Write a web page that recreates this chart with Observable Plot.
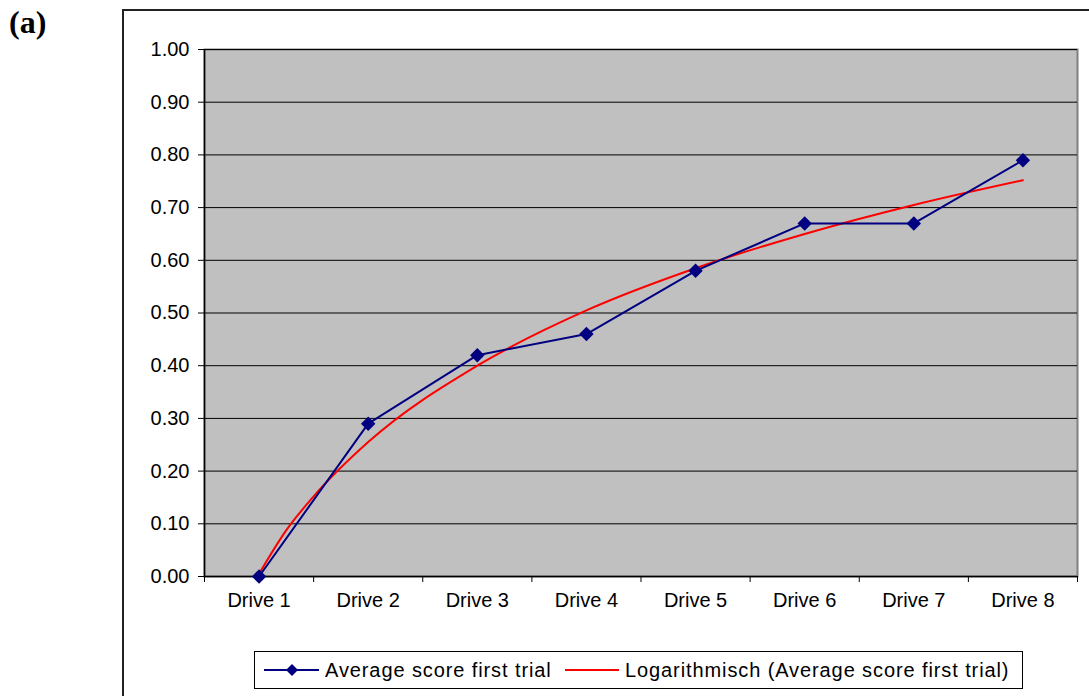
<!DOCTYPE html>
<html>
<head>
<meta charset="utf-8">
<script src="https://cdn.jsdelivr.net/npm/d3@7"></script>
<script src="https://cdn.jsdelivr.net/npm/@observablehq/plot@0.6"></script>
<style>
  html, body { margin: 0; padding: 0; background: #fff; }
  #wrap { position: relative; width: 1089px; height: 696px; overflow: hidden; font-family: "Liberation Sans", Arial, sans-serif; }
  #panel { position: absolute; left: 9px; top: 3px; font-family: "Liberation Serif", "Times New Roman", serif; font-weight: bold; font-size: 32px; line-height: 38px; }
  #outer { position: absolute; left: 122px; top: 9px; width: 1000px; height: 720px; border: 2px solid #222; box-sizing: border-box; }
  #chart { position: absolute; left: 0; top: 0; }
  #legend { position: absolute; left: 254px; top: 651px; width: 769px; height: 38px; border: 1px solid #000; box-sizing: border-box; background: #fff; }
  #legend .t { position: absolute; top: 6px; font-size: 20px; line-height: 24px; letter-spacing: 0.9px; color: #000; white-space: nowrap; }
  #legend svg { position: absolute; left: 0; top: 0; }
</style>
</head>
<body>
<div id="wrap">
  <div id="outer"></div>
  <div id="panel">(a)</div>
  <div id="chart"></div>
  <div id="legend">
    <svg width="769" height="38">
      <line x1="9" x2="64" y1="18" y2="18" stroke="#000080" stroke-width="2"></line>
      <path d="M37,12 L43,18 L37,24 L31,18 Z" fill="#000080"></path>
      <line x1="310" x2="364" y1="18" y2="18" stroke="#ff0000" stroke-width="2"></line>
    </svg>
    <span class="t" id="lab1" style="left:70px;"></span>
    <span class="t" id="lab2" style="left:370px;"></span>
  </div>
</div>
<script>
const drives = ["Drive 1", "Drive 2", "Drive 3", "Drive 4", "Drive 5", "Drive 6", "Drive 7", "Drive 8"];
const avgScore = [0.00, 0.29, 0.42, 0.46, 0.58, 0.67, 0.67, 0.79];
// Logarithmic trend line at these drive positions
const trendPos = [1, 1.25, 1.5, 2, 3, 4, 5, 6, 7, 8];
const trendVal = [0.005, 0.088, 0.152, 0.255, 0.400, 0.505, 0.585, 0.650, 0.705, 0.752];
const yTicks = [0, 0.1, 0.2, 0.3, 0.4, 0.5, 0.6, 0.7, 0.8, 0.9, 1.0];
const seriesNames = ["Average score first trial", "Logarithmisch (Average score first trial)"];

document.getElementById("lab1").textContent = seriesNames[0];
document.getElementById("lab2").textContent = seriesNames[1];

const pos = drives.map((d, i) => i + 1);
const bounds = d3.range(0, drives.length + 1).map(i => i + 0.5);
const scoreData = drives.map((d, i) => ({x: i + 1, y: avgScore[i]}));
const trendData = trendPos.map((p, i) => ({x: p, y: trendVal[i]}));

const chart = Plot.plot({
  width: 1089,
  height: 620,
  marginLeft: 204,
  marginRight: 12,
  marginTop: 49,
  marginBottom: 44,
  style: {fontFamily: "'Liberation Sans', Arial, sans-serif", fontSize: "20px", color: "#000", background: "transparent"},
  x: {type: "linear", domain: [0.5, drives.length + 0.5]},
  y: {domain: [0, 1]},
  marks: [
    Plot.frame({fill: "#c0c0c0", stroke: "#808080", strokeWidth: 2}),
    Plot.gridY(yTicks, {stroke: "#000", strokeOpacity: 1, strokeWidth: 1}),
    Plot.ruleX([0.5], {stroke: "#000", strokeWidth: 1.5}),
    Plot.ruleY([0], {stroke: "#000", strokeWidth: 1.5}),
    Plot.axisY({ticks: yTicks, tickFormat: d3.format(".2f"), tickSize: 6, tickPadding: 9, label: null, stroke: "#000", fontSize: 20}),
    Plot.axisX({ticks: bounds, tickFormat: () => "", tickSize: 6, label: null, stroke: "#000"}),
    Plot.axisX({ticks: pos, tickFormat: i => drives[i - 1], tickSize: 0, tickPadding: 16, label: null, fontSize: 20}),
    Plot.line(trendData, {x: "x", y: "y", stroke: "#ff0000", strokeWidth: 2, curve: "monotone-x"}),
    Plot.line(scoreData, {x: "x", y: "y", stroke: "#000080", strokeWidth: 2}),
    Plot.dot(scoreData, {x: "x", y: "y", symbol: "diamond2", r: 6.5, fill: "#000080", stroke: "none"})
  ]
});
document.getElementById("chart").appendChild(chart);
</script>
</body>
</html>
